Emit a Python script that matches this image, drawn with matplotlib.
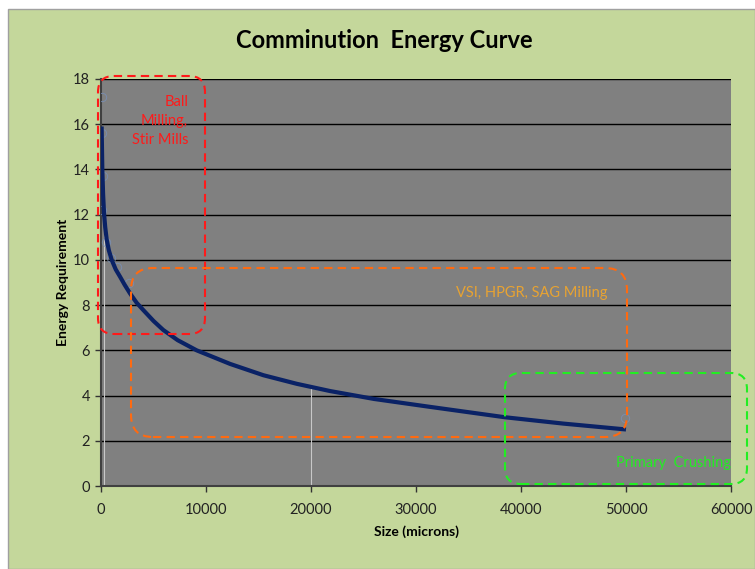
import numpy as np
import matplotlib
matplotlib.use('Agg')
import matplotlib.pyplot as plt
from matplotlib.patches import FancyBboxPatch, Rectangle
from matplotlib.transforms import Affine2D

# curve (size in microns, energy)
size = [60, 125, 200, 290, 400, 540, 750, 1020, 1400, 1810, 2250, 2760, 3400,
        4030, 5000, 5930, 7300, 9110, 12290, 15460, 18640, 21810, 26000,
        31330, 38480, 44030, 50000]
energy = [15.9, 14.0, 12.9, 12.05, 11.45, 10.9, 10.42, 10.0, 9.58, 9.26, 8.9,
          8.52, 8.1, 7.78, 7.3, 6.9, 6.45, 6.0, 5.4, 4.9, 4.52, 4.2, 3.85,
          3.5, 3.04, 2.76, 2.5]

# faint data markers
pt_size = [70, 120, 220, 60, 480, 920, 1490, 2650, 49900]
pt_energy = [17.2, 15.6, 13.7, 12.2, 10.8, 10.1, 9.7, 9.0, 3.0]

# light drop lines
drop_x = [250, 20000]
drop_top = [12.0, 4.4]

xticks = [0, 10000, 20000, 30000, 40000, 50000, 60000]
yticks = [0, 2, 4, 6, 8, 10, 12, 14, 16, 18]

W, H = 755, 569
fig = plt.figure(figsize=(W / 100, H / 100), dpi=100)
fig.patch.set_facecolor('white')
font = 'Lato'

# pixel coordinates, origin bottom-left
px = Affine2D().scale(1 / W, 1 / H) + fig.transFigure

def to_up(y):
    # picture y (from top) -> pixel y from bottom
    return H - y

fig.patches.append(Rectangle((8, 0), W - 8, H - 9, transform=px, zorder=-5,
                             facecolor='#c4d79b', edgecolor='#a0a0a0', lw=1))

ax = fig.add_axes([101 / W, 1 - 486 / H, 630 / W, 407 / H])
ax.set_facecolor('#808080')
ax.set_xlim(0, 60000)
ax.set_ylim(0, 18)
ax.set_xticks(xticks)
ax.set_yticks(yticks)
ax.set_xticklabels([str(t) for t in xticks], fontsize=10.5, family=font, color='#222222')
ax.set_yticklabels([str(t) for t in yticks], fontsize=10.5, family=font, color='#222222')
ax.tick_params(direction='out', length=4, width=1, color='#333333', pad=4)
ax.tick_params(axis='x', pad=8)
ax.yaxis.grid(True, color='black', lw=1)
ax.set_axisbelow(True)
for s in ['top', 'right']:
    ax.spines[s].set_visible(False)
for s in ['left', 'bottom']:
    ax.spines[s].set_color('#404040')
    ax.spines[s].set_linewidth(1.5)

ax.vlines(drop_x, 0, drop_top, color='#c8c8c8', lw=0.8, zorder=2)
ax.plot(pt_size, pt_energy, 'o', ms=6, mfc='none', mec='#7890b8', mew=0.7,
        alpha=0.8, zorder=3)
ax.plot(size, energy, color='#0a2266', lw=3, solid_capstyle='butt',
        solid_joinstyle='round', zorder=4)

ax.set_ylabel('Energy Requirement', fontsize=10, fontweight='bold', family=font, labelpad=3)
ax.set_xlabel('Size (microns)', fontsize=10, fontweight='bold', family=font, labelpad=6)

fig.text(384 / W, 1 - 40 / H, 'Comminution  Energy Curve', ha='center', va='center',
         fontsize=17, fontweight='bold', family=font)

# dashed rounded boxes (picture pixel edges)
boxes = [
    (98, 76, 205, 334, 16, '#ff1a1a'),
    (131, 268, 627, 437, 22, '#ff6a10'),
    (505, 373, 747, 484, 16, '#22ee22'),
]
for x0, y0, x1, y1, r, c in boxes:
    p = FancyBboxPatch((x0 + r, to_up(y1) + r), (x1 - x0) - 2 * r, (y1 - y0) - 2 * r,
                       boxstyle='round,pad=%d,rounding_size=%d' % (r, r),
                       transform=px, facecolor='none', edgecolor=c, lw=1.5,
                       linestyle=(0, (4, 2.5)), zorder=5)
    fig.patches.append(p)

fig.text(188 / W, 1 - 121 / H, 'Ball\nMilling,\nStir Mills', ha='right', va='center',
         fontsize=10.5, color='#ff1a1a', family=font, linespacing=1.45, zorder=6)
fig.text(608 / W, 1 - 293 / H, 'VSI, HPGR, SAG Milling', ha='right', va='center',
         fontsize=10.5, color='#e8a332', family=font, zorder=6)
fig.text(731 / W, 1 - 463 / H, 'Primary  Crushing', ha='right', va='center',
         fontsize=10.5, color='#22ee22', family=font, zorder=6)

fig.savefig('out.png', dpi=100)
